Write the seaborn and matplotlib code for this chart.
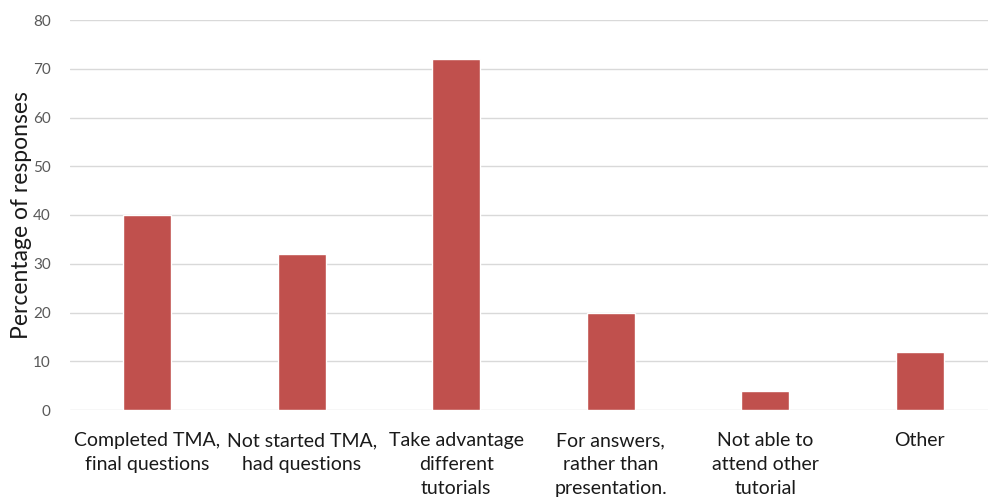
import matplotlib
matplotlib.use("Agg")
import matplotlib.pyplot as plt
import seaborn as sns
import pandas as pd

categories = [
    "Completed TMA,\nfinal questions",
    "Not started TMA,\nhad questions",
    "Take advantage\ndifferent\ntutorials",
    "For answers,\nrather than\npresentation.",
    "Not able to\nattend other\ntutorial",
    "Other",
]
percentages = [40, 32, 72, 20, 4, 12]
y_ticks = [0, 10, 20, 30, 40, 50, 60, 70, 80]

sns.set_theme(style="white")
plt.rcParams["font.family"] = ["Lato", "DejaVu Sans"]

df = pd.DataFrame({"category": categories, "pct": percentages})

fig = plt.figure(figsize=(9.88, 5.0), dpi=100)
ax = fig.add_axes([0.071, 0.18, 0.938, 0.78])

sns.barplot(data=df, x="category", y="pct", color="#C0504D", width=0.31,
            saturation=1, ax=ax, zorder=3)

ax.set_ylim(0, 80)
ax.set_yticks(y_ticks)
ax.set_yticklabels([str(v) for v in y_ticks], color="#595959", fontsize=11)
ax.yaxis.grid(True, color="#d9d9d9", linewidth=1, zorder=0)
ax.set_axisbelow(True)
for s in ax.spines.values():
    s.set_visible(False)
ax.tick_params(axis="both", length=0)
ax.tick_params(axis="y", pad=14)
ax.tick_params(axis="x", pad=16)
for lbl in ax.get_xticklabels():
    lbl.set_fontsize(14)
    lbl.set_color("#1a1a1a")
    lbl.set_linespacing(1.5)
    lbl.set_verticalalignment("top")
ax.set_xlabel("")
ax.set_ylabel("Percentage of responses", fontsize=16.5, color="#1a1a1a", labelpad=1)

fig.savefig("out.png", dpi=100)
